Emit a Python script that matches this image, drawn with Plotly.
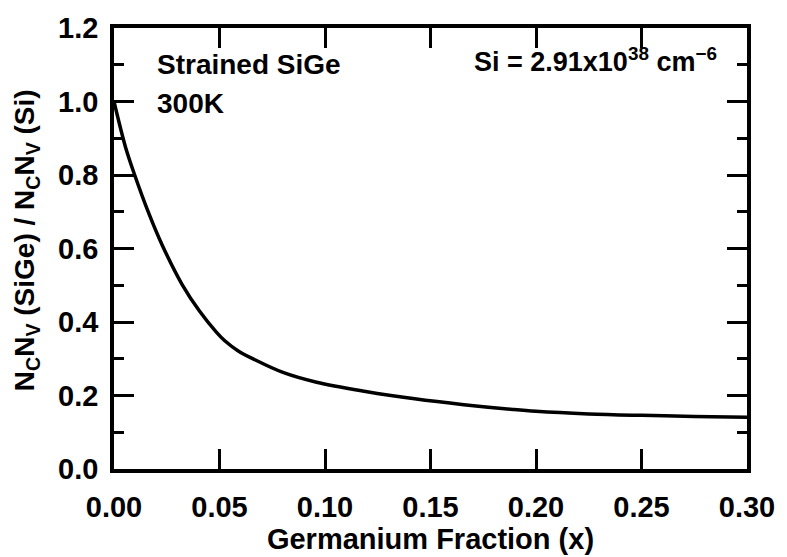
import plotly.graph_objects as go

ge_fraction = [0.0, 0.0054, 0.0098, 0.0166, 0.0227, 0.0323, 0.0405, 0.0486, 0.0525, 0.0587,
               0.0665, 0.0804, 0.0960, 0.1193, 0.1425, 0.1658, 0.1890, 0.2000, 0.2250, 0.2500,
               0.2750, 0.3000]
ratio = [1.000, 0.877, 0.800, 0.694, 0.611, 0.502, 0.430, 0.372, 0.349, 0.322,
         0.298, 0.262, 0.236, 0.211, 0.191, 0.175, 0.162, 0.157, 0.150, 0.146,
         0.143, 0.141]

x_ticks = [0.0, 0.05, 0.10, 0.15, 0.20, 0.25, 0.30]
x_ticklabels = ["0.00", "0.05", "0.10", "0.15", "0.20", "0.25", "0.30"]
y_ticks = [0.0, 0.2, 0.4, 0.6, 0.8, 1.0, 1.2]
y_ticklabels = ["0.0", "0.2", "0.4", "0.6", "0.8", "1.0", "1.2"]
y_minor_ticks = [0.1, 0.3, 0.5, 0.7, 0.9, 1.1]

FONT = dict(family="Liberation Sans, Arial, sans-serif", size=29, color="black", weight="bold")
FONT_ANN = dict(FONT, size=28)
FONT_SI = dict(FONT, size=27)

fig = go.Figure()
fig.add_trace(go.Scatter(x=ge_fraction, y=ratio, mode="lines",
                         line=dict(color="black", width=3.5, shape="spline", smoothing=1.0),
                         showlegend=False, hoverinfo="skip"))

axis_common = dict(showgrid=False, zeroline=False, showline=True, linecolor="black", linewidth=3.5,
                   mirror="allticks", ticks="inside", ticklen=20, tickwidth=3, tickcolor="black",
                   tickfont=FONT)

fig.update_xaxes(range=[0, 0.30], tickvals=x_ticks, ticktext=x_ticklabels,
                 ticklabelstandoff=9,
                 title=dict(text="Germanium Fraction (x)", font=FONT, standoff=2),
                 **axis_common)
fig.update_yaxes(range=[0, 1.2], tickvals=y_ticks, ticktext=y_ticklabels,
                 ticklabelstandoff=6,
                 minor=dict(tickvals=y_minor_ticks, ticklen=10, tickwidth=3,
                            tickcolor="black", ticks="inside"),
                 **axis_common)

# y-axis title as rotated annotation
fig.add_annotation(x=-0.138, y=0.518, xref="paper", yref="paper", textangle=-90,
                   text="N<sub>C</sub>N<sub>V</sub> (SiGe) / N<sub>C</sub>N<sub>V</sub> (Si)",
                   showarrow=False, xanchor="center", yanchor="middle", font=dict(FONT, size=28))

fig.add_annotation(x=0.0195, y=1.102, xref="x", yref="y", text="Strained SiGe", showarrow=False,
                   xanchor="left", yanchor="middle", font=FONT_ANN)
fig.add_annotation(x=0.0195, y=0.995, xref="x", yref="y", text="300K", showarrow=False,
                   xanchor="left", yanchor="middle", font=FONT_ANN)
fig.add_annotation(x=0.2865, y=1.112, xref="x", yref="y",
                   text="Si = 2.91x10<sup>38</sup> cm<sup>\u22126</sup>", showarrow=False,
                   xanchor="right", yanchor="middle", font=FONT_SI)

fig.update_layout(width=787, height=557, margin=dict(l=114, r=29, t=19, b=88),
                  paper_bgcolor="white", plot_bgcolor="white", font=FONT)

fig.write_html("out.html")
